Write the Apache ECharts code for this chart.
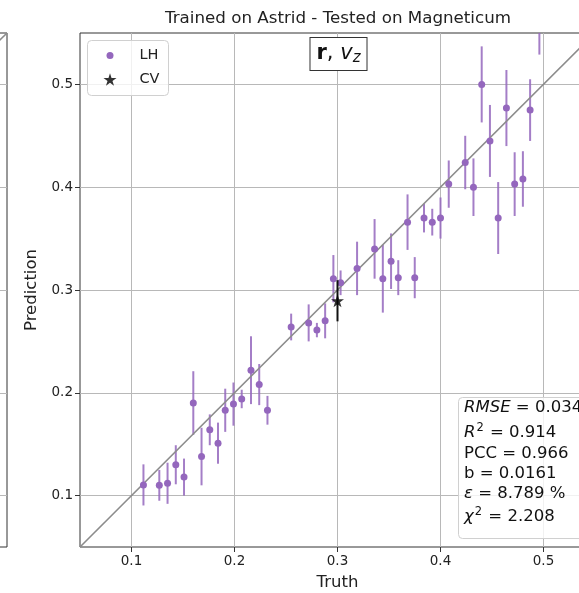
<!DOCTYPE html>
<html><head><meta charset="utf-8">
<script src="https://cdn.jsdelivr.net/npm/echarts@6/dist/echarts.min.js"></script>
<style>html,body{margin:0;padding:0;background:#fff}#c{width:579px;height:593px}</style>
</head><body><div id="c"></div>
<script>
const truthLH = [0.1116,0.127,0.135,0.143,0.151,0.160,0.168,0.176,0.184,0.191,0.199,0.207,0.216,0.224,0.232,0.255,0.272,0.280,0.288,0.296,0.303,0.319,0.336,0.344,0.352,0.359,0.368,0.375,0.384,0.392,0.400,0.408,0.424,0.432,0.440,0.448,0.456,0.464,0.472,0.480,0.487,0.496];
const predLH  = [0.1104,0.110,0.112,0.130,0.118,0.190,0.138,0.164,0.151,0.183,0.189,0.194,0.222,0.208,0.183,0.264,0.268,0.261,0.270,0.311,0.307,0.321,0.340,0.311,0.328,0.312,0.366,0.312,0.370,0.366,0.370,0.403,0.424,0.400,0.500,0.445,0.370,0.477,0.403,0.408,0.475,0.562];
const errLH   = [0.020,0.015,0.020,0.019,0.018,0.031,0.028,0.015,0.020,0.021,0.021,0.009,0.033,0.020,0.014,0.013,0.018,0.007,0.017,0.023,0.012,0.026,0.029,0.033,0.027,0.017,0.027,0.020,0.014,0.013,0.020,0.023,0.026,0.028,0.037,0.035,0.035,0.037,0.031,0.027,0.030,0.033];
const truthCV = [0.300];
const predCV  = [0.2895];
const errCV   = [0.020];
const axisRange = [0.05, 0.55];
const tickValues = [0.1, 0.2, 0.3, 0.4, 0.5];
const titleText = 'Trained on Astrid - Tested on Magneticum';
const statsLines = ['{i|RMSE} = 0.034', '{i|R}{sup|2} = 0.914', 'PCC = 0.966', 'b = 0.0161', '{i|ε} = 8.789 %', '{i|χ}{sup|2} = 2.208'];
const statsY = [408, 433, 454, 474, 494, 517];

const FONT = 'DejaVu Sans';
const PURPLE = '#9467bd';
const STAR = 'path://M50,0 L61.2,34.5 L97.6,34.5 L68.2,55.9 L79.4,90.5 L50,69.1 L20.6,90.5 L31.8,55.9 L2.4,34.5 L38.8,34.5 Z';

const lhPts = truthLH.map((t, i) => [t, predLH[i], errLH[i]]);
const cvPts = truthCV.map((t, i) => [t, predCV[i], errCV[i]]);

function errRender(color) {
  return function (params, api) {
    const x = api.value(0), y = api.value(1), e = api.value(2);
    const a = api.coord([x, y + e]), b = api.coord([x, y - e]);
    return { type: 'line', shape: { x1: a[0], y1: a[1], x2: b[0], y2: b[1] },
      style: { stroke: color, lineWidth: 2 } };
  };
}

function mkAxis(gi, showLabels, name, nameGap) {
  return {
    type: 'value', gridIndex: gi, min: axisRange[0], max: axisRange[1],
    name: showLabels ? name : '', nameLocation: 'middle', nameGap: nameGap,
    nameTextStyle: { fontFamily: FONT, fontSize: 16.5, color: '#222' },
    axisLine: { show: false },
    axisTick: { show: true, customValues: tickValues, length: showLabels ? 5 : 0, lineStyle: { color: '#333' } },
    axisLabel: { show: showLabels, customValues: tickValues, fontFamily: FONT, fontSize: 13.5, color: '#222',
      margin: 7, formatter: v => v.toFixed(1) },
    splitLine: { show: true, lineStyle: { color: '#b8b8b8', width: 1 } }
  };
}

const chart = echarts.init(document.getElementById('c'));
const option = {
  animation: false,
  backgroundColor: '#fff',
  grid: [
    { left: 80, top: 33, width: 515, height: 514, show: true, borderColor: '#333', borderWidth: 1,
      backgroundColor: 'transparent', outerBoundsMode: 'none', containLabel: false },
    { left: -508, top: 33, width: 515, height: 514, show: true, borderColor: '#333', borderWidth: 1,
      backgroundColor: 'transparent', outerBoundsMode: 'none', containLabel: false }
  ],
  xAxis: [mkAxis(0, true, 'Truth', 27), mkAxis(1, false, '', 0)],
  yAxis: [mkAxis(0, true, 'Prediction', 38), mkAxis(1, false, '', 0)],
  legend: [
    { data: ['LH'], orient: 'vertical', left: 106.5, top: 48, padding: 0, itemWidth: 7, itemHeight: 7,
      textStyle: { fontFamily: FONT, fontSize: 14.5, color: '#222', padding: [0, 0, 0, 21] }, selectedMode: false },
    { data: ['CV'], orient: 'vertical', left: 103.5, top: 72, padding: 0, itemWidth: 13, itemHeight: 13,
      textStyle: { fontFamily: FONT, fontSize: 14.5, color: '#222', padding: [0, 0, 0, 18] }, selectedMode: false }
  ],
  series: [
    { name: 'ideal', type: 'line', xAxisIndex: 0, yAxisIndex: 0, data: [[axisRange[0], axisRange[0]], [axisRange[1], axisRange[1]]],
      symbol: 'none', lineStyle: { color: '#8c8c8c', width: 1.6 }, z: 3, silent: true },
    { name: 'ideal2', type: 'line', xAxisIndex: 1, yAxisIndex: 1, data: [[axisRange[0], axisRange[0]], [axisRange[1], axisRange[1]]],
      symbol: 'none', lineStyle: { color: '#8c8c8c', width: 1.6 }, silent: true },
    { name: 'LHerr', type: 'custom', xAxisIndex: 0, yAxisIndex: 0, data: lhPts, clip: true,
      renderItem: errRender('rgba(148,103,189,0.85)'), z: 2, silent: true },
    { name: 'LH', type: 'scatter', xAxisIndex: 0, yAxisIndex: 0, data: lhPts, symbolSize: 7, clip: true,
      itemStyle: { color: PURPLE, opacity: 1 }, z: 4 },
    { name: 'CVerr', type: 'custom', xAxisIndex: 0, yAxisIndex: 0, data: cvPts, clip: true,
      renderItem: errRender('#111'), z: 5, silent: true },
    { name: 'CV', type: 'scatter', xAxisIndex: 0, yAxisIndex: 0, data: cvPts, symbol: STAR, symbolSize: 13, clip: true,
      itemStyle: { color: '#000' }, z: 6 }
  ],
  graphic: [
    { type: 'text', x: 338, y: 19, style: { text: titleText, align: 'center', verticalAlign: 'middle',
      font: '16.7px "DejaVu Sans"', fill: '#222' } },
    { type: 'rect', shape: { x: 87.5, y: 40.5, width: 81, height: 55, r: 4 },
      style: { fill: 'rgba(255,255,255,0.8)', stroke: '#d0d0d0', lineWidth: 1 }, z: 1 },
    { type: 'text', x: 338.5, y: 54, z: 10, style: {
      text: '{b|r}{n|, }{i|v}{s|z}', align: 'center', verticalAlign: 'middle',
      backgroundColor: '#fff', borderColor: '#333', borderWidth: 1, padding: [1, 6, 1, 6],
      rich: {
        b: { fontFamily: FONT, fontSize: 21, fontWeight: 'bold', fill: '#111', height: 22 },
        n: { fontFamily: FONT, fontSize: 21, fill: '#111', height: 22 },
        i: { fontFamily: FONT, fontSize: 21, fontStyle: 'italic', fill: '#111', height: 22 },
        s: { fontFamily: FONT, fontSize: 15, fontStyle: 'italic', fill: '#111', padding: [8, 0, 0, 0], height: 22 }
      } } },
    { type: 'rect', shape: { x: 458.5, y: 397.5, width: 140, height: 141, r: 4 },
      style: { fill: 'rgba(255,255,255,0.8)', stroke: '#d0d0d0', lineWidth: 1 }, z: 10 }
  ].concat(statsLines.map((s, i) => ({
    type: 'text', x: 464, y: statsY[i], z: 11,
    style: { text: s, verticalAlign: 'middle', font: '16.5px "DejaVu Sans"', fill: '#111',
      rich: {
        i: { fontFamily: FONT, fontSize: 16.5, fontStyle: 'italic', fill: '#111' },
        sup: { fontFamily: FONT, fontSize: 11.5, fill: '#111', padding: [0, 1, 9, 1] }
      } }
  })))
};
chart.setOption(option);
</script></body></html>
